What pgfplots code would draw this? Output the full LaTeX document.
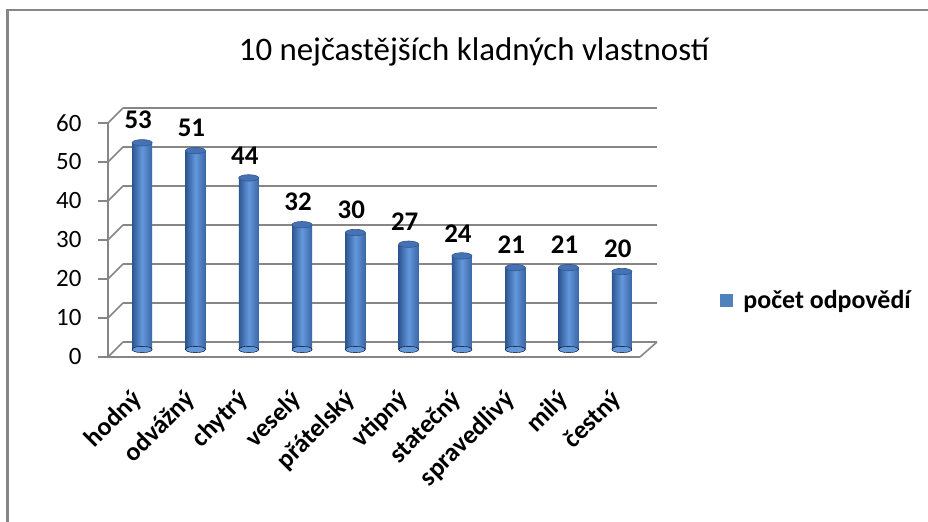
\documentclass[border=0pt]{standalone}
\usepackage{pgfplots}
\usepackage{pgfplotstable}
\pgfplotsset{compat=1.18}
\usepackage{fontspec}
\setmainfont{Carlito}
\pgfplotsset{/pgf/number format/assume math mode=true}
\definecolor{gridgray}{RGB}{134,134,134}
\definecolor{cylL}{RGB}{44,86,146}
\definecolor{cylM}{RGB}{100,152,220}
\definecolor{cylR}{RGB}{58,102,166}
\definecolor{capc}{RGB}{70,114,180}
\definecolor{capd}{RGB}{48,88,146}
\definecolor{legblue}{RGB}{79,129,189}
\pgfdeclareplotmark{cyltop}{%
  \pgfpathellipse{\pgfpointorigin}{\pgfpoint{10bp}{0pt}}{\pgfpoint{0pt}{3.2bp}}%
  \pgfusepathqfillstroke}
\pgfplotstableread{
x y
0 53
1 51
2 44
3 32
4 30
5 27
6 24
7 21
8 21
9 20
}\data
\begin{document}
\begin{tikzpicture}[x=1bp,y=1bp]
\useasboundingbox (0,0) rectangle (928,522);
\fill[white] (0,0) rectangle (928,522);
\draw[gridgray, line width=3bp] (7.5,0) -- (7.5,512);
\draw[gridgray, line width=2bp] (6,512) -- (928,512);
\node[font=\fontsize{33}{38}\selectfont] at (474,470) {10 nejčastějších kladných vlastností};
% back wall with gridlines
\begin{axis}[at={(123bp,180bp)}, anchor=south west, scale only axis,
  width=534bp, height=234bp, xmin=-0.5, xmax=9.5, ymin=0, ymax=60,
  axis line style={draw=none}, major tick length=0pt,
  xtick=\empty, ytick={0,10,...,60}, yticklabels=\empty,
  ymajorgrids, major grid style={gridgray, line width=1.6bp}]
\addplot[draw=none] coordinates {(0,0)};
\end{axis}
% front plane with axis and ticks
\begin{axis}[at={(108bp,165bp)}, anchor=south west, scale only axis,
  width=532bp, height=234bp, xmin=-0.5, xmax=9.5, ymin=0, ymax=60,
  axis x line*=bottom, axis y line*=left, xtick=\empty,
  ytick={0,10,...,60}, tick align=outside, major tick length=10bp,
  axis line style={gridgray, line width=1.6bp},
  y tick style={gridgray, line width=1.6bp},
  yticklabel style={font=\fontsize{25}{28}\selectfont, xshift=-13bp},
  clip=false]
\addplot[draw=none] coordinates {(0,0)};
\pgfplotsinvokeforeach{0,10,20,30,40,50,60}{
  \draw[gridgray, line width=1.6bp] (axis cs:-0.5,#1) -- ++(15bp,15bp);}
\draw[gridgray, line width=1.6bp] (axis cs:9.5,0) -- ++(17bp,15bp);
\end{axis}
% bars at mid depth
\begin{axis}[at={(115.5bp,172.5bp)}, anchor=south west, scale only axis,
  width=533bp, height=234bp, xmin=-0.5, xmax=9.5, ymin=0, ymax=60,
  axis line style={draw=none}, major tick length=0pt,
  ytick=\empty, xtick={0,...,9},
  xticklabels={hodný, odvážný, chytrý, veselý, přátelský, vtipný, statečný, spravedlivý, milý, čestný},
  xticklabel style={font=\bfseries\fontsize{26}{29}\selectfont, xshift=-2bp, yshift=-44bp, rotate=45, anchor=east},
  clip=false,
  legend style={at={(rel axis cs:1.129,0.21)}, anchor=west, draw=none, fill=none,
    font=\bfseries\fontsize{26}{30}\selectfont},
  legend image code/.code={\fill[legblue] (0bp,-7bp) rectangle (13bp,6bp); \path[draw=none, fill=none] (13bp,0bp) -- (21bp,0bp);}]
\addlegendimage{draw=none}
\addlegendentry{počet odpovědí}
\addplot[only marks, mark=cyltop, mark options={fill=cylM, draw=none}, forget plot]
  table[x=x, y expr=0] {\data};
\pgfplotsinvokeforeach{0,...,9}{
\addplot[ybar, bar width=20bp, bar shift=0pt, draw=none, left color=cylL, right color=cylR, middle color=cylM,
  mark=cyltop, mark options={fill=capc, draw=capd, line width=0.6bp},
  restrict expr to domain={\coordindex}{#1:#1},
  nodes near coords, forget plot,
  every node near coord/.append style={font=\bfseries\fontsize{27}{30}\selectfont, anchor=south, xshift=-4bp, yshift=10bp, black}]
  table[x=x, y=y] {\data};
}
\end{axis}
\end{tikzpicture}
\end{document}
